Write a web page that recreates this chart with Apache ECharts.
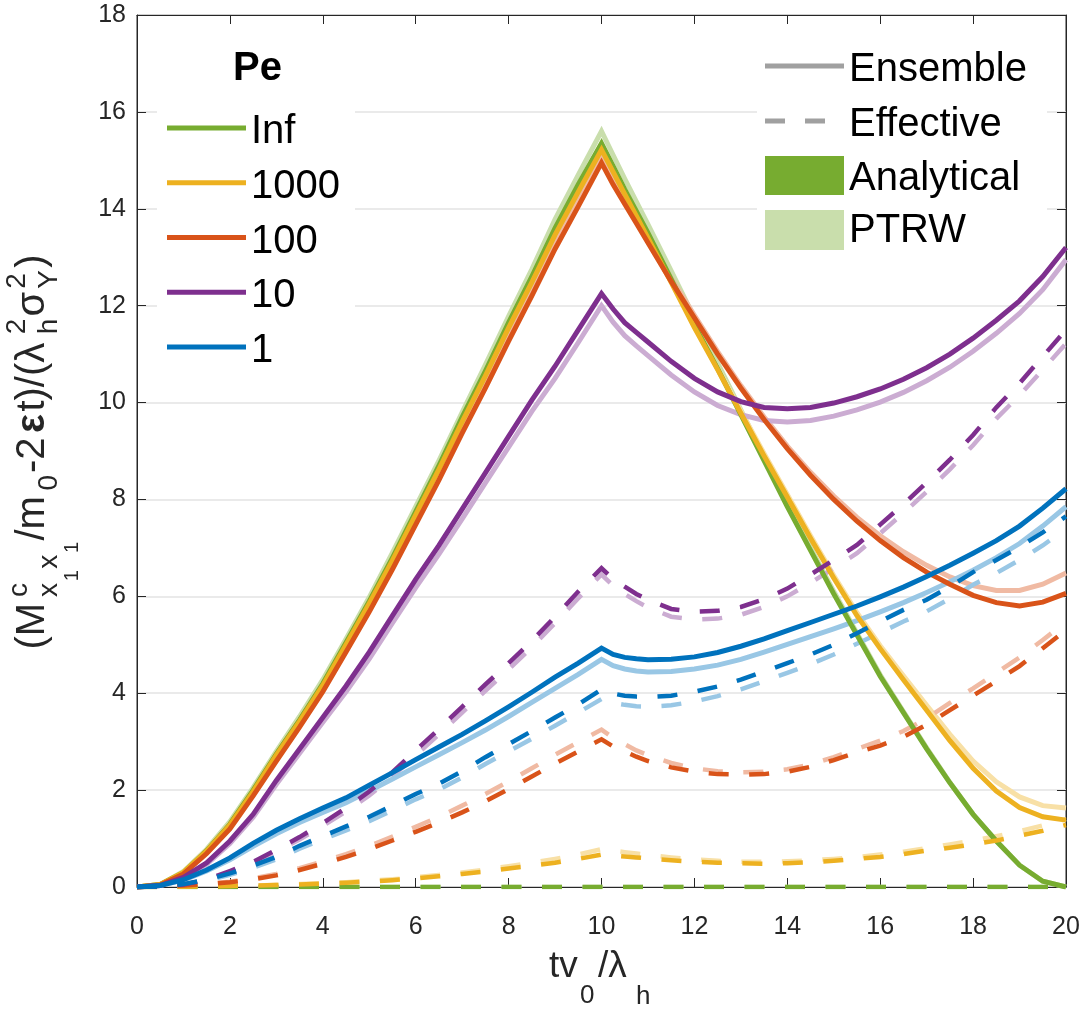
<!DOCTYPE html>
<html>
<head>
<meta charset="utf-8">
<script src="https://cdn.jsdelivr.net/npm/echarts@6/dist/echarts.min.js"></script>
<style>
html,body{margin:0;padding:0;background:#ffffff;}
#chart{width:1089px;height:1012px;}
</style>
</head>
<body>
<div id="chart"></div>
<script>
// ---------------- data ----------------
const tVals = [0,0.5,1,1.5,2,2.5,3,3.5,4,4.5,5,5.5,6,6.5,7,7.5,8,8.5,9,9.5,10,10.25,10.5,10.75,11,11.5,12,12.5,13,13.5,14,14.5,15,15.5,16,16.5,17,17.5,18,18.5,19,19.5,20];
const xTicks = [0,2,4,6,8,10,12,14,16,18,20];
const yTicks = [0,2,4,6,8,10,12,14,16,18];

const peLabels = ['Inf','1000','100','10','1'];
const styleLabels = ['Ensemble','Effective','Analytical','PTRW'];

// Pe = Inf
const ensInf     = [0,0.05,0.3,0.75,1.3,2.0,2.75,3.45,4.2,5.05,5.9,6.8,7.75,8.7,9.7,10.65,11.65,12.6,13.6,14.5,15.35,14.88,14.4,13.95,13.5,12.55,11.6,10.7,9.75,8.8,7.85,6.95,6.05,5.2,4.35,3.6,2.85,2.15,1.5,0.95,0.45,0.12,0];
const ptrwInf    = [0,0.05,0.32,0.78,1.35,2.05,2.8,3.52,4.28,5.12,5.98,6.9,7.85,8.8,9.8,10.78,11.78,12.75,13.78,14.7,15.6,15.11,14.62,14.15,13.68,12.72,11.75,10.82,9.85,8.88,7.92,7.0,6.1,5.24,4.38,3.62,2.87,2.16,1.5,0.95,0.45,0.12,0];
const effInf     = [0,0,0,0,0,0,0,0,0,0,0,0,0,0,0,0,0,0,0,0,0,0,0,0,0,0,0,0,0,0,0,0,0,0,0,0,0,0,0,0,0,0,0];
const ptrwEffInf = [0,0,0,0,0,0,0,0,0,0,0,0,0,0,0,0,0,0,0,0,0,0,0,0,0,0,0,0,0,0,0,0,0,0,0,0,0,0,0,0,0,0,0];
// Pe = 1000
const ens1000     = [0,0.05,0.3,0.74,1.28,1.97,2.72,3.42,4.16,5.0,5.85,6.74,7.68,8.62,9.6,10.55,11.54,12.48,13.46,14.35,15.22,14.76,14.3,13.85,13.4,12.48,11.55,10.68,9.78,8.9,8.05,7.2,6.38,5.6,4.92,4.28,3.65,3.02,2.45,1.98,1.64,1.45,1.38];
const ptrw1000    = [0,0.05,0.31,0.76,1.31,2.0,2.76,3.46,4.2,5.05,5.9,6.8,7.74,8.68,9.66,10.62,11.6,12.56,13.52,14.42,15.3,14.83,14.36,13.9,13.45,12.52,11.6,10.72,9.82,8.95,8.1,7.25,6.43,5.66,4.98,4.36,3.75,3.15,2.6,2.17,1.86,1.68,1.63];
const eff1000     = [0,0,0.005,0.01,0.02,0.03,0.04,0.05,0.07,0.09,0.11,0.14,0.18,0.22,0.27,0.32,0.38,0.44,0.5,0.58,0.67,0.65,0.63,0.61,0.59,0.55,0.52,0.5,0.49,0.48,0.49,0.51,0.54,0.58,0.62,0.68,0.75,0.81,0.88,0.96,1.06,1.16,1.28];
const ptrwEff1000 = [0,0,0.005,0.01,0.02,0.03,0.045,0.06,0.08,0.1,0.13,0.16,0.2,0.25,0.3,0.36,0.43,0.5,0.58,0.67,0.78,0.75,0.72,0.69,0.66,0.61,0.57,0.54,0.52,0.52,0.53,0.55,0.58,0.62,0.67,0.73,0.8,0.88,0.96,1.05,1.15,1.27,1.4];
// Pe = 100
const ens100     = [0,0.04,0.27,0.69,1.2,1.88,2.6,3.3,4.03,4.85,5.68,6.56,7.48,8.4,9.37,10.3,11.27,12.2,13.17,14.05,14.95,14.5,14.1,13.7,13.3,12.5,11.75,11.0,10.3,9.65,9.05,8.5,8.0,7.55,7.15,6.8,6.5,6.25,6.02,5.87,5.8,5.88,6.06];
const ptrw100    = [0,0.04,0.28,0.71,1.23,1.92,2.65,3.36,4.1,4.93,5.77,6.66,7.58,8.51,9.48,10.42,11.39,12.33,13.3,14.18,15.08,14.62,14.2,13.78,13.38,12.57,11.8,11.05,10.35,9.7,9.1,8.56,8.07,7.63,7.25,6.92,6.64,6.4,6.22,6.12,6.12,6.25,6.48];
const eff100     = [0,0.01,0.03,0.06,0.1,0.16,0.24,0.35,0.48,0.62,0.78,0.96,1.14,1.33,1.54,1.77,2.02,2.28,2.55,2.8,3.05,2.9,2.8,2.69,2.6,2.47,2.38,2.33,2.32,2.33,2.38,2.48,2.62,2.78,2.92,3.1,3.35,3.65,3.95,4.25,4.56,4.93,5.3];
const ptrwEff100 = [0,0.01,0.03,0.07,0.11,0.18,0.27,0.39,0.53,0.68,0.85,1.04,1.24,1.45,1.68,1.92,2.18,2.45,2.73,2.99,3.25,3.08,2.95,2.82,2.72,2.56,2.45,2.39,2.37,2.38,2.43,2.53,2.68,2.85,3.02,3.22,3.48,3.8,4.1,4.42,4.74,5.1,5.47];
// Pe = 10
const ens10     = [0,0.03,0.2,0.5,0.95,1.5,2.2,2.85,3.5,4.15,4.85,5.6,6.35,7.05,7.8,8.55,9.3,10.05,10.75,11.5,12.25,11.93,11.65,11.45,11.25,10.85,10.5,10.22,10.02,9.9,9.87,9.9,9.99,10.12,10.28,10.48,10.72,11.0,11.33,11.7,12.1,12.6,13.2];
const ptrw10    = [0,0.03,0.19,0.47,0.9,1.44,2.12,2.76,3.4,4.03,4.71,5.45,6.18,6.87,7.6,8.34,9.08,9.82,10.5,11.24,12.0,11.66,11.38,11.17,10.97,10.57,10.22,9.94,9.75,9.63,9.6,9.63,9.72,9.85,10.01,10.21,10.45,10.73,11.06,11.43,11.84,12.33,12.95];
const eff10     = [0,0.01,0.05,0.15,0.33,0.52,0.77,1.03,1.32,1.63,1.97,2.37,2.82,3.26,3.72,4.18,4.62,5.08,5.58,6.1,6.58,6.36,6.2,6.05,5.93,5.74,5.68,5.7,5.78,5.94,6.16,6.45,6.75,7.06,7.48,7.9,8.35,8.82,9.33,9.9,10.4,10.95,11.5];
const ptrwEff10 = [0,0.01,0.05,0.14,0.31,0.49,0.73,0.98,1.26,1.56,1.89,2.28,2.72,3.15,3.6,4.05,4.49,4.95,5.45,5.96,6.45,6.22,6.05,5.9,5.77,5.58,5.52,5.54,5.62,5.78,6.0,6.28,6.58,6.89,7.3,7.72,8.16,8.62,9.12,9.67,10.15,10.68,11.22];
// Pe = 1
const ens1     = [0,0.03,0.15,0.35,0.6,0.9,1.17,1.41,1.63,1.84,2.1,2.36,2.63,2.89,3.15,3.43,3.72,4.02,4.33,4.62,4.93,4.8,4.74,4.71,4.69,4.7,4.75,4.84,4.97,5.12,5.29,5.46,5.63,5.8,5.99,6.19,6.41,6.64,6.89,7.15,7.45,7.82,8.22];
const ptrw1    = [0,0.03,0.14,0.33,0.56,0.84,1.1,1.33,1.54,1.74,1.98,2.23,2.48,2.73,2.98,3.24,3.52,3.81,4.1,4.39,4.7,4.57,4.5,4.46,4.44,4.45,4.5,4.58,4.7,4.85,5.01,5.17,5.33,5.5,5.68,5.87,6.08,6.3,6.54,6.8,7.09,7.45,7.85];
const eff1     = [0,0.01,0.06,0.15,0.28,0.44,0.62,0.85,1.05,1.25,1.45,1.68,1.92,2.13,2.39,2.68,2.95,3.22,3.5,3.77,4.08,3.99,3.95,3.93,3.92,3.95,4.03,4.14,4.28,4.45,4.62,4.8,5.0,5.24,5.48,5.72,5.93,6.2,6.5,6.75,7.02,7.32,7.65];
const ptrwEff1 = [0,0.01,0.05,0.13,0.25,0.4,0.57,0.79,0.98,1.17,1.36,1.58,1.81,2.01,2.26,2.54,2.8,3.06,3.33,3.6,3.88,3.8,3.76,3.73,3.72,3.75,3.83,3.94,4.08,4.25,4.42,4.6,4.8,5.02,5.25,5.48,5.69,5.95,6.24,6.48,6.75,7.05,7.4];

// ---------------- styling ----------------
const FONT = '"Liberation Sans", Arial, Helvetica, sans-serif';
const AXIS_COLOR = '#262626';
const darkColors  = ['#77AC30','#EDB120','#D95319','#7E2F8E','#0072BD'];
const lightColors = ['#C9DEAC','#F8E0A6','#F0BAA3','#CBACD2','#99C7E5'];
const DASH = [20, 20.5];

const groups = [
  [ensInf, ptrwInf, effInf, ptrwEffInf],
  [ens1000, ptrw1000, eff1000, ptrwEff1000],
  [ens100, ptrw100, eff100, ptrwEff100],
  [ens10, ptrw10, eff10, ptrwEff10],
  [ens1, ptrw1, eff1, ptrwEff1]
];

function pairs(arr){ return tVals.map((t,i)=>[t, arr[i]]); }
function mkLine(name, arr, color, dashed, width, z){
  return {
    name: name, type:'line', data: pairs(arr), symbol:'none', showSymbol:false,
    silent:true, animation:false, z: z,
    lineStyle:{color: color, width: width, type: dashed ? DASH : 'solid', cap:'butt', join:'miter'}
  };
}
const series = [];
groups.forEach((g, i)=>{
  const pe = peLabels[i];
  series.push(mkLine('Pe '+pe+' Ensemble PTRW',  g[1], lightColors[i], false, 5, 2));
  series.push(mkLine('Pe '+pe+' Effective PTRW', g[3], lightColors[i], true, 4.5, 2));
  series.push(mkLine('Pe '+pe+' Ensemble Analytical',  g[0], darkColors[i], false, 5, 3));
  series.push(mkLine('Pe '+pe+' Effective Analytical', g[2], darkColors[i], true, 4.5, 3));
});

// ---------------- composed axis titles (sub/superscripts) ----------------
const mctx = document.createElement('canvas').getContext('2d');
function tw(t, s, b){ mctx.font = (b?'bold ':'') + s + 'px ' + FONT; return mctx.measureText(t).width; }
function textEl(t, s, b, color, px, py, rotated){
  const el = {
    type:'text', silent:true, z:100,
    style:{text:t, x:0, y:0, font:(b?'bold ':'') + s + 'px ' + FONT, fill:color,
      align:'left', verticalAlign:'middle'}
  };
  el.x = px; el.y = py;
  if (rotated) el.rotation = Math.PI/2;
  return el;
}
// y title: runs laid out along the baseline (bottom-to-top), stretched to the reference length
function composeRotated(cols, targetLen, color, baseX, bottomY){
  const placed = []; let x = 0;
  cols.forEach(col=>{
    let maxw = 0;
    col.forEach(run=>{
      let rx = x;
      run.forEach(it=>{ placed.push({it:it, x:rx}); rx += tw(it.t, it.s, it.b); });
      maxw = Math.max(maxw, rx - x);
    });
    x += maxw;
  });
  const last = placed[placed.length-1];
  const lastW = tw(last.it.t, last.it.s, last.it.b);
  const k = (targetLen - lastW) / (last.x || 1);
  return placed.map(p=>{
    const mid = (p.it.dy || 0) - 0.3465 * p.it.s;
    return textEl(p.it.t, p.it.s, p.it.b, color, baseX + mid, bottomY - p.x * k, true);
  });
}
const M = 40, S = 28, SS = 20;
const yLabelCols = [
  [[{t:'(M', s:M}]],
  [[{t:'c', s:S, dy:-18}], [{t:'x', s:S, dy:12},{t:'1', s:SS, dy:32},{t:'x', s:S, dy:12},{t:'1', s:SS, dy:32}]],
  [[{t:'/m', s:M}]],
  [[{t:'0', s:S, dy:12}]],
  [[{t:'-2', s:M}]],
  [[{t:'ε', s:M, b:true}]],
  [[{t:'t)/(λ', s:M}]],
  [[{t:'2', s:S, dy:-20}], [{t:'h', s:S, dy:12}]],
  [[{t:'σ', s:M}]],
  [[{t:'2', s:S, dy:-20}], [{t:'Y', s:S, dy:12}]],
  [[{t:')', s:M}]]
];
// x title pieces: text, size, left x, baseline offset
const xLabelParts = [
  {t:'tv', s:37, x:549, dy:0},
  {t:'0',  s:26, x:580, dy:25},
  {t:'/λ', s:37, x:598, dy:0},
  {t:'h',  s:26, x:636, dy:26}
];
const yLen = 395;
const graphics = [];
composeRotated(yLabelCols, yLen, AXIS_COLOR, 47, 452 + yLen/2).forEach(e=>graphics.push(e));
xLabelParts.forEach(p=>graphics.push(textEl(p.t, p.s, false, AXIS_COLOR, p.x, 980 + p.dy - 0.3465*p.s, false)));

// ---------------- legends ----------------
graphics.push({type:'rect', silent:true, z:90, shape:{x:157, y:33, width:198, height:345}, style:{fill:'#ffffff'}});
graphics.push({type:'text', silent:true, z:100, style:{text:'Pe', x:233, y:69, font:'bold 40px '+FONT, fill:'#000000', align:'left', verticalAlign:'middle'}});
peLabels.forEach((lab, i)=>{
  const ly = 128 + i*54.75;
  graphics.push({type:'line', silent:true, z:100, shape:{x1:167, y1:ly, x2:246, y2:ly}, style:{stroke:darkColors[i], lineWidth:5}});
  graphics.push({type:'text', silent:true, z:100, style:{text:lab, x:251, y:ly+4, font:'40px '+FONT, fill:'#000000', align:'left', verticalAlign:'middle'}});
});
graphics.push({type:'rect', silent:true, z:90, shape:{x:757, y:35, width:290, height:228}, style:{fill:'#ffffff'}});
graphics.push({type:'line', silent:true, z:100, shape:{x1:765, y1:66, x2:844, y2:66}, style:{stroke:'#a0a0a0', lineWidth:5}});
graphics.push({type:'line', silent:true, z:100, shape:{x1:765, y1:121, x2:844, y2:121}, style:{stroke:'#a0a0a0', lineWidth:5, lineDash:[20,20]}});
graphics.push({type:'rect', silent:true, z:100, shape:{x:765, y:156, width:79, height:39}, style:{fill:darkColors[0]}});
graphics.push({type:'rect', silent:true, z:100, shape:{x:765, y:210, width:79, height:40}, style:{fill:lightColors[0]}});
const styleY = [69.5, 124.5, 179, 231];
styleLabels.forEach((lab, i)=>{
  graphics.push({type:'text', silent:true, z:100, style:{text:lab, x:849, y:styleY[i], font:'40px '+FONT, fill:'#000000', align:'left', verticalAlign:'middle'}});
});

// ---------------- axes ----------------
const tickStyle = {show:true, inside:true, length:9, lineStyle:{color:AXIS_COLOR, width:1}};
const lineStyleAx = {show:true, onZero:false, lineStyle:{color:AXIS_COLOR, width:1}};
const option = {
  animation:false,
  backgroundColor:'#ffffff',
  textStyle:{fontFamily:FONT},
  grid:{left:137, right:23, top:15, bottom:125, show:true, borderColor:AXIS_COLOR, borderWidth:1, backgroundColor:'transparent'},
  xAxis:[
    {type:'value', min:xTicks[0], max:xTicks[xTicks.length-1], interval:xTicks[1]-xTicks[0], position:'bottom',
     axisLine:lineStyleAx, axisTick:tickStyle,
     axisLabel:{color:AXIS_COLOR, fontSize:25, fontFamily:FONT, margin:28},
     splitLine:{show:false}},
    {type:'value', min:xTicks[0], max:xTicks[xTicks.length-1], interval:xTicks[1]-xTicks[0], position:'top',
     axisLine:lineStyleAx, axisTick:tickStyle, axisLabel:{show:false}, splitLine:{show:false}}
  ],
  yAxis:[
    {type:'value', min:yTicks[0], max:yTicks[yTicks.length-1], interval:yTicks[1]-yTicks[0], position:'left',
     axisLine:lineStyleAx, axisTick:tickStyle,
     axisLabel:{color:AXIS_COLOR, fontSize:25, fontFamily:FONT, margin:11},
     splitLine:{show:true, lineStyle:{color:'#e3e3e3', width:1.5}}},
    {type:'value', min:yTicks[0], max:yTicks[yTicks.length-1], interval:yTicks[1]-yTicks[0], position:'right',
     axisLine:lineStyleAx, axisTick:tickStyle, axisLabel:{show:false}, splitLine:{show:false}}
  ],
  series: series,
  graphic: graphics
};
const chart = echarts.init(document.getElementById('chart'), null, {renderer:'canvas'});
chart.setOption(option);
</script>
</body>
</html>
